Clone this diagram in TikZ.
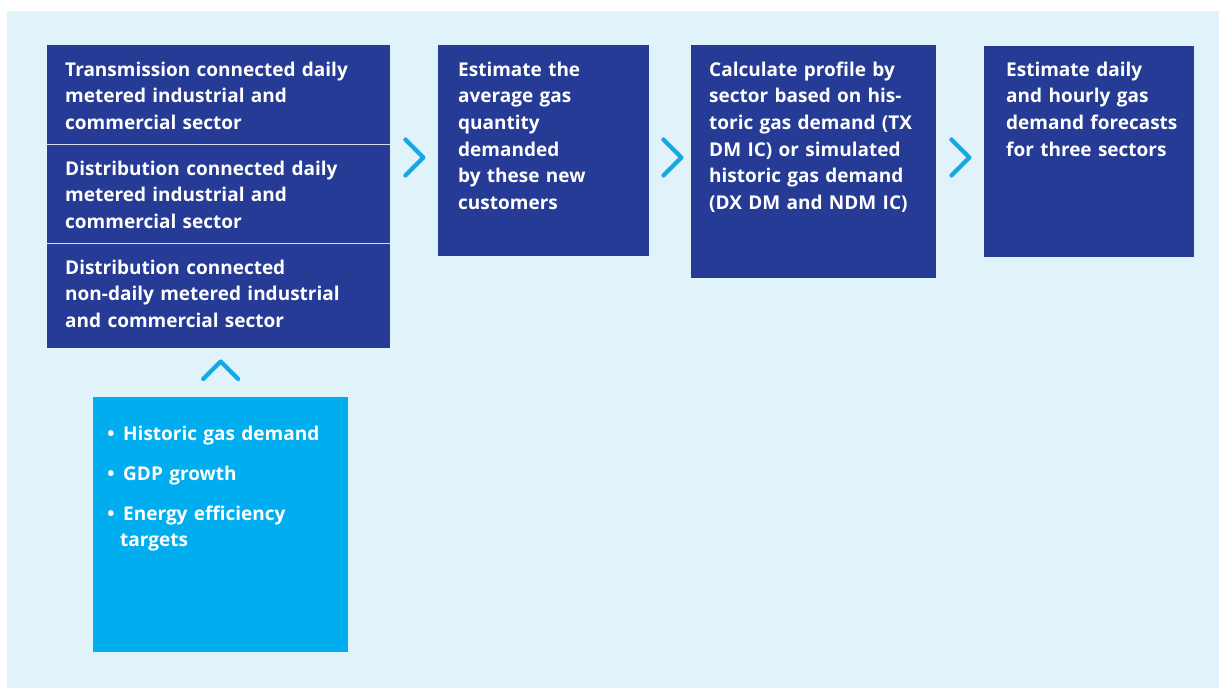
\documentclass[tikz,border=0pt]{standalone}
\usepackage{fontspec}
\setmainfont{Open Sans}
\usetikzlibrary{calc}
\definecolor{panelbg}{HTML}{E0F3FA}
\definecolor{navy}{HTML}{253B95}
\definecolor{skyblue}{HTML}{00AEEF}
\definecolor{chevblue}{HTML}{12A9E6}
\begin{document}
\begin{tikzpicture}[x=1pt,y=-1pt,
  stepbox/.style={fill=navy,draw=none,anchor=north west,inner sep=0pt},
  inbox/.style={fill=skyblue,draw=none,anchor=north west,inner sep=0pt},
  label/.style={anchor=base west,inner sep=0pt,text=white,text width=330pt,align=left,
    font=\bfseries\fontsize{19}{26.7}\selectfont},
  divider/.style={draw=white!82!navy,line width=1.5pt},
  chev/.style={draw=chevblue,line width=4.2pt,line cap=round,line join=round}]
\useasboundingbox (0,0) rectangle (1219,688);
% light panel behind the flow
\fill[panelbg] (7,11) rectangle (1219,688);

% boxes of the flow
\node[stepbox,minimum width=343pt,minimum height=303pt] (sectors) at (47,45) {};
\node[stepbox,minimum width=211pt,minimum height=211pt] (avg) at (438,45) {};
\node[stepbox,minimum width=245pt,minimum height=233pt] (profile) at (691,45) {};
\node[stepbox,minimum width=210pt,minimum height=211pt] (forecast) at (984,46) {};
\node[inbox,minimum width=255pt,minimum height=255pt] (inputs) at (93,397) {};

% separators inside the sector box
\draw[divider] (sectors.west |- 0,144.3) -- (sectors.east |- 0,144.3);
\draw[divider] (sectors.west |- 0,243.3) -- (sectors.east |- 0,243.3);

% texts
\node[label] (tx) at (65,76) {Transmission connected daily\\metered industrial and\\commercial sector};
\node[label] (dx) at (65,175) {Distribution connected daily\\metered industrial and\\commercial sector};
\node[label] (ndm) at (65,274) {Distribution connected\\non-daily metered industrial\\and commercial sector};
\node[label] (avgtext) at (458,76) {Estimate the\\average gas\\quantity\\demanded\\by these new\\customers};
\node[label] (proftext) at (709,76) {Calculate profile by\\sector based on his-\\toric gas demand (TX\\DM IC) or simulated\\historic gas demand\\(DX DM and NDM IC)};
\node[label] (fctext) at (1006,76) {Estimate daily\\and hourly gas\\demand forecasts\\for three sectors};
\node[label] (intext) at (104,440) {%
  \makebox[19pt][l]{\,\textbullet}Historic gas demand\\[13.3pt]
  \makebox[19pt][l]{\,\textbullet}GDP growth\\[13.3pt]
  \makebox[19pt][l]{\,\textbullet}Energy efficiency\\
  \hspace*{16pt}targets};

% chevrons between the steps
\draw[chev] ($(sectors.east |- 0,139.5)+(15,0)$) -- ++(18,18) -- ++(-18,18);
\draw[chev] ($(avg.east |- 0,139.5)+(14,0)$) -- ++(18,18) -- ++(-18,18);
\draw[chev] ($(profile.east |- 0,139.5)+(15,0)$) -- ++(18,18) -- ++(-18,18);
% chevron from the inputs up to the sectors
\draw[chev] ($(inputs.north)+(-17.5,-18)$) -- ++(17.5,-17.5) -- ++(17.5,17.5);
\end{tikzpicture}
\end{document}
